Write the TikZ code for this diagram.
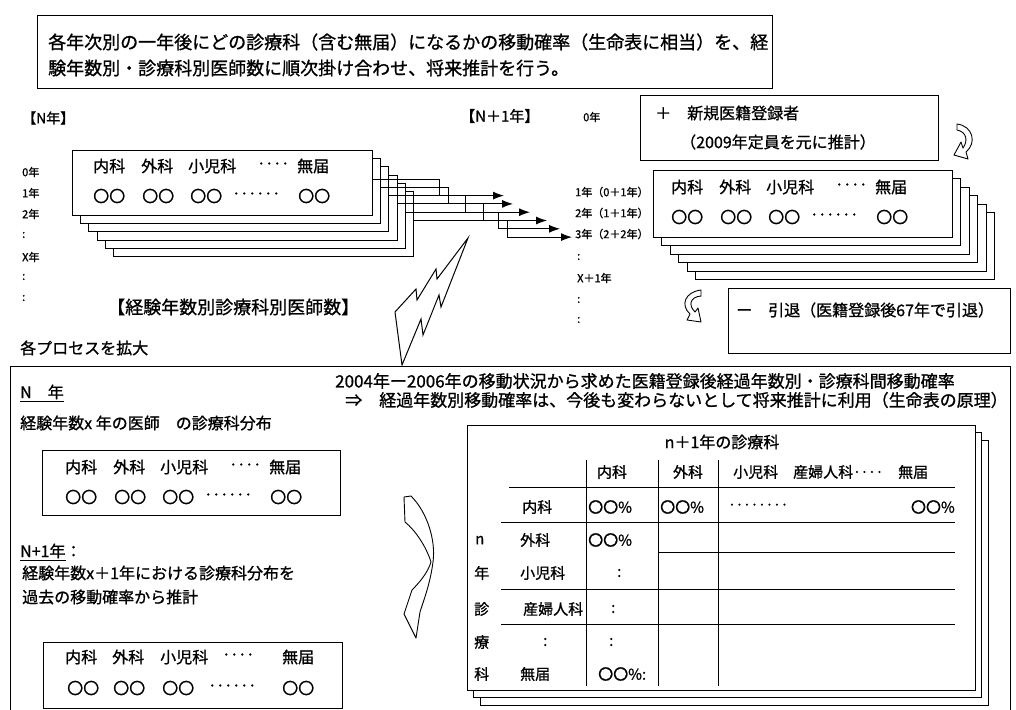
\documentclass[tikz,border=0pt]{standalone}
\usepackage{fontspec}
\setmainfont{Noto Sans CJK JP}[FakeBold=1]
\usetikzlibrary{arrows.meta,calc}
\tikzset{
  bx/.style={draw, line width=0.9pt, fill=white, inner sep=0pt, anchor=north west},
  lbl/.style={inner sep=0pt, anchor=west},
  fa/.style={font=\fontsize{11}{12}\selectfont},
  fb/.style={font=\fontsize{14}{15}\selectfont},
  fc/.style={font=\fontsize{15}{16}\selectfont},
  fd/.style={font=\fontsize{16}{17}\selectfont},
  fe/.style={font=\fontsize{17}{18}\selectfont},
  ff/.style={font=\fontsize{18}{19}\selectfont},
  arr/.style={-{Latex[length=11pt,width=8pt]}, line width=1pt},
  ln/.style={line width=1pt},
  hollow/.style={line width=0.9pt, fill=white, line join=round}
}
\newcommand{\cardtxt}[2]{%
  \node[lbl,fd] at (#1+21,#2+16) {内科};
  \node[lbl,fd] at (#1+69,#2+16) {外科};
  \node[lbl,fd] at (#1+116,#2+16) {小児科};
  \node[lbl,fd] at (#1+185,#2+16) {‥‥};
  \node[lbl,fd] at (#1+225,#2+16) {無届};
  \node[lbl,fd] at (#1+21,#2+46) {〇〇};
  \node[lbl,fd] at (#1+70,#2+46) {〇〇};
  \node[lbl,fd] at (#1+118,#2+46) {〇〇};
  \node[lbl,fd] at (#1+160,#2+46) {‥‥‥};
  \node[lbl,fd] at (#1+226,#2+46) {〇〇};
}
\begin{document}
\begin{tikzpicture}[x=1pt,y=-1pt]
\useasboundingbox (0,0) rectangle (1016,709);
\clip (0,0) rectangle (1016,709);
\fill[white] (0,0) rectangle (1016,709);

% title
\node[bx, minimum width=735pt, minimum height=73pt] (title) at (37,15) {};
\node[lbl,ff] (t1) at (48,42) {各年次別の一年後にどの診療科（含む無届）になるかの移動確率（生命表に相当）を、経};
\node[lbl,ff] (t2) at (48,68) {験年数別・診療科別医師数に順次掛け合わせ、将来推計を行う。};

\node[lbl,fb] (nyear) at (22,118) {【N年】};
\node[lbl,fc] (n1year) at (460,116) {【N＋1年】};

% left labels
\node[lbl,fa] (ly0) at (22,172) {0年};
\node[lbl,fa] (ly1) at (22,193) {1年};
\node[lbl,fa] (ly2) at (22,214) {2年};
\node[lbl,fa] (ly3) at (22,235) {:};
\node[lbl,fa] (lyx) at (22,257) {X年};
\node[lbl,fa] (ly4) at (22,277) {:};
\node[lbl,fa] (ly5) at (22,298) {:};

% left stack
\foreach \i in {5,4,3,2,1,0} {
  \node[bx, minimum width=300pt, minimum height=65pt] (L\i) at ({72+8.2*\i},{150+8.2*\i}) {};
}
\cardtxt{72}{150}

% stepped arrows
\foreach \i/\v/\t in {0/439/504, 1/448/513, 2/465/530, 3/483/547, 4/498/560, 5/507/572} {
  \pgfmathsetmacro\ya{179+8.3*\i}
  \pgfmathsetmacro\yb{195.6+8.3*\i}
  \coordinate (tip\i) at (\t,\yb);
  \draw[arr] (L\i.east |- 0,\ya) -- (\v,\ya) -- (\v,\yb) -- (tip\i);
}

% right labels
\node[lbl,fa] (ry0) at (583,117) {0年};
\node[lbl,fa] (ry1) at (575,192) {1年（0＋1年）};
\node[lbl,fa] (ry2) at (575,213) {2年（1＋1年）};
\node[lbl,fa] (ry3) at (575,234) {3年（2＋2年）};
\node[lbl,fa] (ry4) at (577,257) {:};
\node[lbl,fa] (ryx) at (577,278) {X＋1年};
\node[lbl,fa] (ry5) at (577,300) {:};
\node[lbl,fa] (ry6) at (577,320) {:};

% new registrants
\node[bx, minimum width=298pt, minimum height=65pt] (newreg) at (640,95) {};
\node[lbl,fd] (nr1) at (655,113) {＋　新規医籍登録者};
\node[lbl,fd] (nr2) at (680,142) {（2009年定員を元に推計）};

% curved arrow top right
\draw[hollow] (957,124) .. controls (973,126) and (977,143) .. (966,152)
  -- (968,159) -- (954,155) -- (961,142) -- (963,148)
  .. controls (968,141) and (967,132) .. (957,130) -- cycle;

% right stack
\foreach \i in {5,4,3,2,1,0} {
  \node[bx, minimum width=299pt, minimum height=67pt] (R\i) at ({653+8.4*\i},{170+8.4*\i}) {};
}
\cardtxt{650}{171}

% retire
\node[bx, minimum width=282pt, minimum height=65pt] (retire) at (728,288) {};
\node[lbl,fd] (rt) at (736,310) {ー　引退（医籍登録後67年で引退）};
\draw[hollow] (701,290) .. controls (685,292) and (680,305) .. (690,314)
  -- (687,320) -- (701,322) -- (698,308) -- (695,312)
  .. controls (688,305) and (690,297) .. (701,296) -- cycle;

\node[lbl,ff] (cap) at (107,307) {【経験年数別診療科別医師数】};
\node[lbl,fd] (zoomtxt) at (20,348) {各プロセスを拡大};

% panel
\node[bx, minimum width=1000pt, minimum height=380pt] (panel) at (10,366) {};

% lightning
\draw[ln, fill=white, line join=miter] (468,238) -- (437,279) -- (436,269) -- (417,300) -- (416,289)
  -- (395,312) -- (402,365) -- (421,319) -- (423,335) -- (439,295) -- (441,307) -- cycle;

\node[lbl,fe] (p1) at (335,381) {2004年ー2006年の移動状況から求めた医籍登録後経過年数別・診療科間移動確率};
\node[lbl,fe] (p2) at (345,400) {⇒　経過年数別移動確率は、今後も変わらないとして将来推計に利用（生命表の原理）};

\node[lbl,fd] (pn) at (20,393) {\underline{N　年}};
\node[lbl,fd] (pn2) at (20,423) {経験年数x 年の医師　の診療科分布};
\node[bx, minimum width=298pt, minimum height=65pt] (box1) at (42,450) {};
\cardtxt{44}{451}
\node[lbl,fd] (pn3) at (20,552) {\underline{N+1年}：};
\node[lbl,fd] (pn4) at (22,573) {経験年数x＋1年における診療科分布を};
\node[lbl,fd] (pn5) at (22,597) {過去の移動確率から推計};
\node[bx, minimum width=299pt, minimum height=66pt] (box2) at (43,642) {};
\node[lbl,fd] at (65,657) {内科};
\node[lbl,fd] at (112,657) {外科};
\node[lbl,fd] at (160,657) {小児科};
\node[lbl,fd] at (222,657) {‥‥};
\node[lbl,fd] at (282,657) {無届};
\node[lbl,fd] at (67,688) {〇〇};
\node[lbl,fd] at (113,688) {〇〇};
\node[lbl,fd] at (162,688) {〇〇};
\node[lbl,fd] at (208,688) {‥‥‥};
\node[lbl,fd] at (282,688) {〇〇};

% big curved arrow
\draw[hollow] (404,497) -- (411,496) .. controls (427,512) and (436,540) .. (433,562)
  .. controls (430,585) and (423,602) .. (420,612) -- (416,638) -- (404,614) -- (412,590)
  .. controls (420,582) and (428,572) .. (431,562)
  .. controls (426,546) and (415,530) .. (405,522) -- cycle;

% table stack
\node[bx, minimum width=508pt, minimum height=265pt] (T2) at (480,440) {};
\node[bx, minimum width=508pt, minimum height=265pt] (T1) at (473,432) {};
\node[bx, minimum width=508pt, minimum height=265pt] (T0) at (467,425) {};

\node[fd, inner sep=0pt] (th) at (722,442) {n＋1年の診療科};
\node[fc, inner sep=0pt] (h1) at (612,472) {内科};
\node[fc, inner sep=0pt] (h2) at (688,472) {外科};
\node[lbl,fc] (h3) at (733,472) {小児科　産婦人科‥‥　無届};
\draw[ln] (509,487) -- (955,487);
\draw[ln] (501,522) -- (955,522);
\draw[ln] (658,552) -- (955,552);
\draw[ln] (501,589) -- (955,589);
\draw[ln] (501,624) -- (955,624);
\draw[ln] (586,460) -- (586,686);
\draw[ln] (658,460) -- (658,686);
\draw[ln] (718,460) -- (718,686);

\node[lbl,fc] (rn) at (475,540) {n};
\node[lbl,fc] (rnen) at (474,573) {年};
\node[lbl,fc] (rshin) at (474,609) {診};
\node[lbl,fc] (rryo) at (474,642) {療};
\node[lbl,fc] (rka) at (474,674) {科};

\node[lbl,fc] (r1) at (522,507) {内科};
\node[lbl,fc] (r2) at (520,540) {外科};
\node[lbl,fc] (r3) at (520,573) {小児科};
\node[lbl,fc] (r4) at (523,609) {産婦人科};
\node[lbl,fc] (r5) at (543,642) {:};
\node[lbl,fc] (r6) at (520,674) {無届};

\node[lbl,fc] (c11) at (588,507) {〇〇\%};
\node[lbl,fc] (c12) at (660,507) {〇〇\%};
\node[lbl,fc] (c13) at (728,507) {‥‥‥‥};
\node[fc, inner sep=0pt, anchor=east] (c14) at (955,507) {〇〇\%};
\node[lbl,fc] (c21) at (588,540) {〇〇\%};
\node[lbl,fc] (c31) at (617,573) {:};
\node[lbl,fc] (c41) at (611,609) {:};
\node[lbl,fc] (c51) at (609,642) {:};
\node[lbl,fc] (c61) at (598,674) {〇〇\%:};
\end{tikzpicture}
\end{document}
